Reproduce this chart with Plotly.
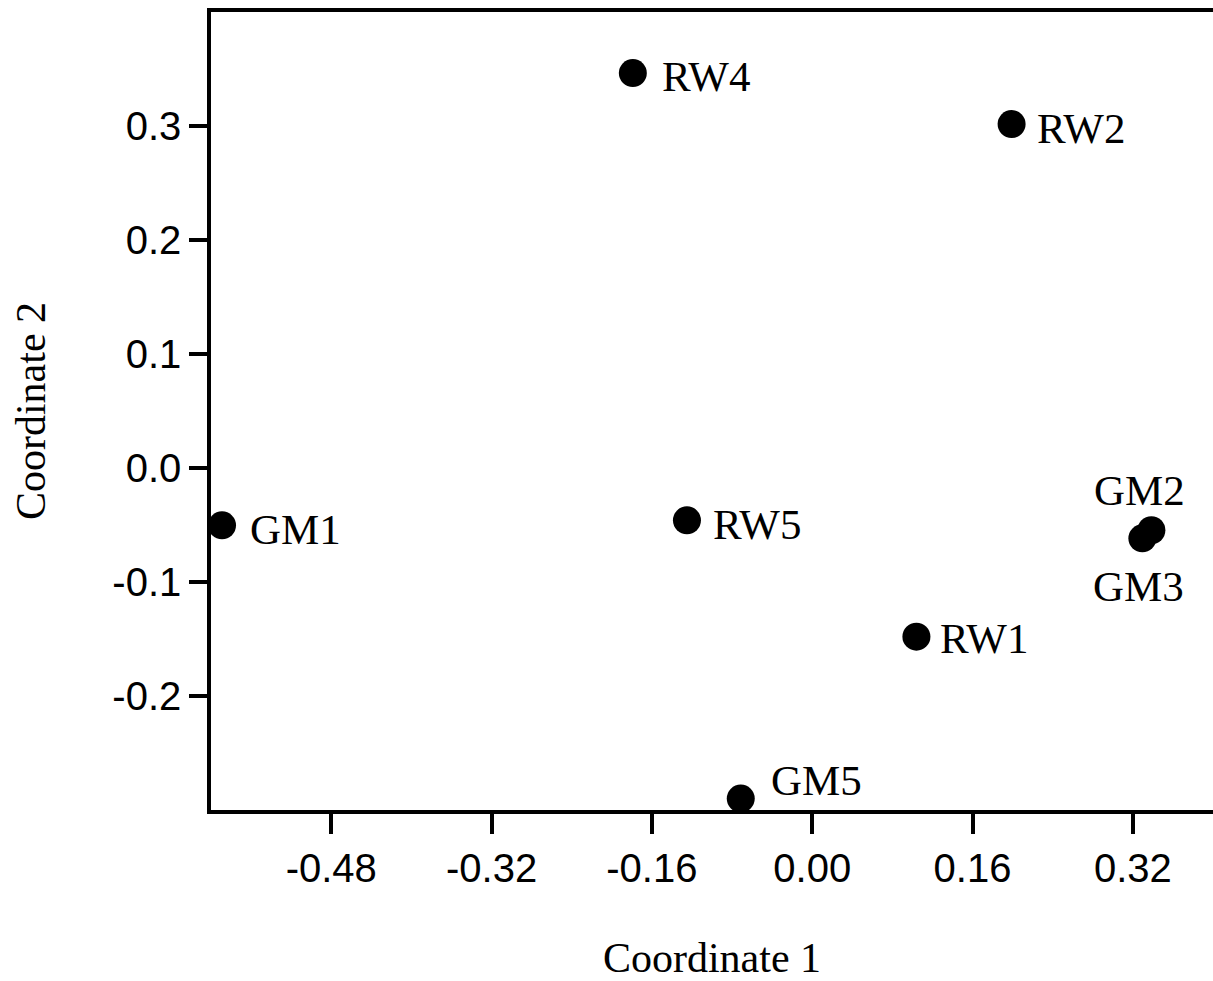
import plotly.graph_objects as go

names = ["RW4", "RW2", "GM1", "RW5", "GM2", "GM3", "RW1", "GM5"]
coord1 = [-0.179, 0.199, -0.589, -0.125, 0.3385, 0.3295, 0.104, -0.0713]
coord2 = [0.3464, 0.3017, -0.0503, -0.0459, -0.0546, -0.0617, -0.148, -0.290]

# label offsets in pixels (styling)
lab_dx = [27, 23, 26, 24, -12, -4, 22, 28]
lab_dy = [-3, -4, -4, -4, 40, -48, -2, 18]
lab_anchor = ["left", "left", "left", "left", "center", "center", "left", "left"]

xticks = [-0.48, -0.32, -0.16, 0.00, 0.16, 0.32]
yticks = [-0.2, -0.1, 0.0, 0.1, 0.2, 0.3]

fig = go.Figure()
fig.add_trace(go.Scatter(
    x=coord1, y=coord2, mode="markers",
    marker=dict(color="black", size=28, line=dict(width=0)),
    showlegend=False, hoverinfo="text", text=names,
))
for n, x, y, dx, dy, a in zip(names, coord1, coord2, lab_dx, lab_dy, lab_anchor):
    fig.add_annotation(x=x, y=y, text=n, showarrow=False, xanchor=a, yanchor="middle",
                       xshift=dx, yshift=dy,
                       font=dict(family="Liberation Serif", size=43, color="black"))

fig.update_layout(
    width=1213, height=981,
    margin=dict(l=211, r=0, t=12, b=169),
    paper_bgcolor="white", plot_bgcolor="white",
    font=dict(family="Liberation Sans", color="black"),
)
fig.update_xaxes(
    range=[-0.6, 0.4], tickvals=xticks, ticktext=[f"{v:.2f}" for v in xticks],
    showgrid=False, zeroline=False, showline=True, linecolor="black", linewidth=3.5,
    mirror=True, ticks="outside", ticklen=20, tickwidth=3.5, tickcolor="black",
    tickfont=dict(family="Liberation Sans", size=40),
    title=dict(text="Coordinate 1", font=dict(family="Liberation Serif", size=42), standoff=62),
)
fig.update_yaxes(
    range=[-0.3, 0.4], tickvals=yticks, ticktext=[f"{v:.1f}" for v in yticks],
    showgrid=False, zeroline=False, showline=True, linecolor="black", linewidth=3.5,
    mirror=False, ticks="outside", ticklen=18, tickwidth=3.5, tickcolor="black",
    tickfont=dict(family="Liberation Sans", size=40),
    title=dict(text="Coordinate 2", font=dict(family="Liberation Serif", size=42), standoff=55),
)
fig.write_html("out.html")
